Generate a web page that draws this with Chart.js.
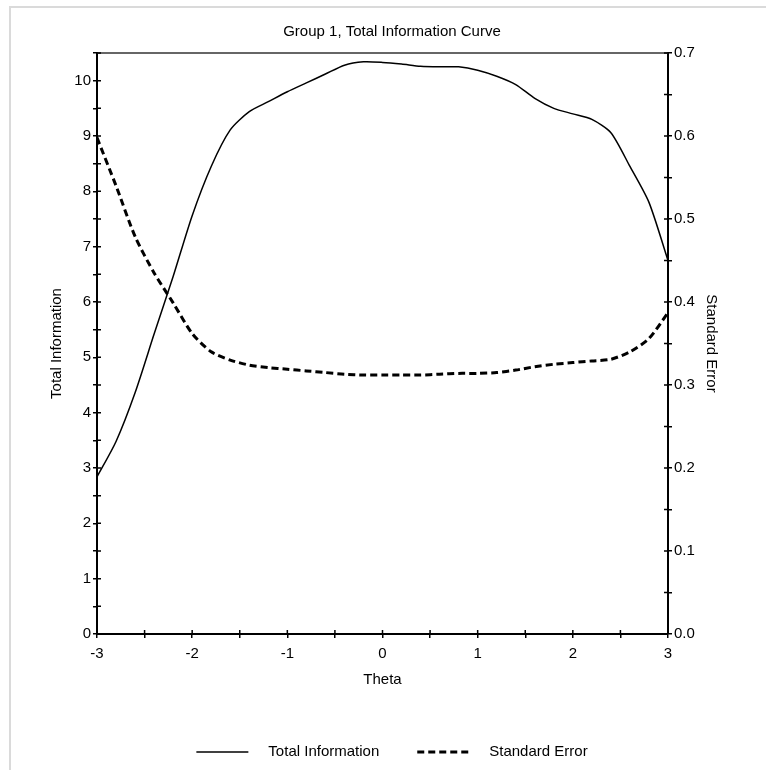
<!DOCTYPE html>
<html>
<head>
<meta charset="utf-8">
<script src="https://cdn.jsdelivr.net/npm/chart.js@4.4.1/dist/chart.umd.min.js"></script>
<style>
html,body{margin:0;padding:0;background:#fff;}
#wrap{width:766px;height:770px;position:relative;}
canvas{display:block;}
</style>
</head>
<body>
<div id="wrap"><canvas id="c" width="766" height="770"></canvas></div>
<script>
// ---- data ----
const theta = [-3.0,-2.8,-2.6,-2.4,-2.2,-2.0,-1.8,-1.6,-1.4,-1.2,-1.0,-0.8,-0.6,-0.4,-0.2,0.0,0.2,0.4,0.6,0.8,1.0,1.2,1.4,1.6,1.8,2.0,2.2,2.4,2.6,2.8,3.0];
const totalInformation = [2.84,3.48,4.36,5.42,6.46,7.56,8.45,9.11,9.44,9.62,9.80,9.96,10.12,10.28,10.34,10.33,10.30,10.26,10.25,10.25,10.19,10.08,9.93,9.68,9.50,9.40,9.30,9.06,8.45,7.80,6.75];
const standardError = [0.598,0.540,0.479,0.435,0.399,0.362,0.340,0.330,0.324,0.321,0.319,0.317,0.315,0.313,0.312,0.312,0.312,0.312,0.313,0.314,0.314,0.315,0.318,0.322,0.325,0.327,0.329,0.331,0.340,0.356,0.387];

const xTickValues = [-3,-2,-1,0,1,2,3];
const xTickLabels = ['-3','-2','-1','0','1','2','3'];
const leftTickValues = [0,1,2,3,4,5,6,7,8,9,10];
const leftTickLabels = ['0','1','2','3','4','5','6','7','8','9','10'];
const rightTickValues = [0,0.1,0.2,0.3,0.4,0.5,0.6,0.7];
const rightTickLabels = ['0.0','0.1','0.2','0.3','0.4','0.5','0.6','0.7'];

const seriesNames = ['Total Information','Standard Error'];
const chartTitle = 'Group 1, Total Information Curve';
const xTitle = 'Theta';

const FONT = "'Liberation Sans', Arial, sans-serif";

function labelFor(values, labels) {
  return function(v) {
    for (let i = 0; i < values.length; i++) {
      if (Math.abs(values[i] - v) < 1e-6) return labels[i];
    }
    return '';
  };
}

const frameAndTicks = {
  id: 'frameAndTicks',
  beforeDraw(chart) {
    const ctx = chart.ctx;
    ctx.save();
    ctx.strokeStyle = '#dadada';
    ctx.lineWidth = 2;
    ctx.beginPath();
    ctx.moveTo(10, chart.height);
    ctx.lineTo(10, 7);
    ctx.lineTo(chart.width, 7);
    ctx.stroke();
    ctx.restore();
  },
  afterDraw(chart) {
    const ctx = chart.ctx;
    const a = chart.chartArea;
    ctx.save();
    // top border
    ctx.strokeStyle = '#333';
    ctx.lineWidth = 1.5;
    ctx.beginPath();
    ctx.moveTo(a.left, a.top);
    ctx.lineTo(a.right, a.top);
    ctx.stroke();
    // inward tick marks
    ctx.strokeStyle = '#000';
    ctx.lineWidth = 1.5;
    const sx = chart.scales.x, sy = chart.scales.y, sy2 = chart.scales.y2;
    ctx.beginPath();
    sx.ticks.forEach(t => {
      const p = sx.getPixelForValue(t.value);
      ctx.moveTo(p, a.bottom); ctx.lineTo(p, a.bottom - 4);
    });
    sy.ticks.forEach(t => {
      const p = sy.getPixelForValue(t.value);
      ctx.moveTo(a.left, p); ctx.lineTo(a.left + 4, p);
    });
    sy2.ticks.forEach(t => {
      const p = sy2.getPixelForValue(t.value);
      ctx.moveTo(a.right, p); ctx.lineTo(a.right - 4, p);
    });
    ctx.stroke();

    // legend
    const ds = chart.data.datasets;
    ctx.font = '15px ' + FONT;
    ctx.fillStyle = '#000';
    ctx.textBaseline = 'middle';
    const lineLen = 52, gap = 20, itemGap = 38;
    const w = ds.map(d => ctx.measureText(d.label).width);
    const total = ds.length * (lineLen + gap) + w.reduce((s, v) => s + v, 0) + itemGap * (ds.length - 1);
    const tb = chart.titleBlock;
    const cx = (tb.left + tb.right) / 2;
    let x = cx - total / 2;
    const y = 752;
    ds.forEach((d, i) => {
      ctx.save();
      ctx.strokeStyle = d.borderColor;
      ctx.lineWidth = d.borderWidth;
      ctx.setLineDash(d.borderDash || []);
      ctx.beginPath();
      ctx.moveTo(x, y); ctx.lineTo(x + lineLen, y);
      ctx.stroke();
      ctx.restore();
      x += lineLen + gap;
      ctx.fillText(d.label, x, y);
      x += w[i] + itemGap;
    });
    ctx.restore();
  }
};

const pts = (ys) => theta.map((t, i) => ({x: t, y: ys[i]}));

new Chart(document.getElementById('c'), {
  type: 'line',
  data: {
    datasets: [
      {
        label: seriesNames[0],
        data: pts(totalInformation),
        yAxisID: 'y',
        borderColor: '#000',
        borderWidth: 1.5,
        pointRadius: 0,
        tension: 0.25,
        fill: false
      },
      {
        label: seriesNames[1],
        data: pts(standardError),
        yAxisID: 'y2',
        borderColor: '#000',
        borderWidth: 3,
        borderDash: [7, 4],
        pointRadius: 0,
        tension: 0.25,
        fill: false
      }
    ]
  },
  options: {
    responsive: false,
    animation: false,
    devicePixelRatio: 1,
    layout: { padding: { left: 18, right: 0, top: 0, bottom: 76 } },
    plugins: {
      legend: { display: false },
      tooltip: { enabled: false },
      title: {
        display: true,
        text: chartTitle,
        color: '#000',
        font: { family: FONT, size: 15, weight: 'normal' },
        padding: { top: 23, bottom: 12 }
      }
    },
    scales: {
      x: {
        type: 'linear',
        min: -3, max: 3,
        afterFit: s => { s.height = 60; },
        ticks: {
          stepSize: 0.5, autoSkip: false, maxRotation: 0,
          color: '#000', padding: 7,
          font: { family: FONT, size: 15 },
          callback: labelFor(xTickValues, xTickLabels)
        },
        grid: { drawOnChartArea: false, drawTicks: true, tickLength: 4, color: '#000', lineWidth: 1.5 },
        border: { display: true, color: '#000', width: 2 },
        title: { display: true, text: xTitle, color: '#000', font: { family: FONT, size: 15 }, padding: { top: 0, bottom: 5 } }
      },
      y: {
        type: 'linear', position: 'left',
        min: 0, max: 10.5,
        afterFit: s => { s.width = 79; },
        ticks: {
          stepSize: 0.5, autoSkip: false,
          color: '#000', padding: 2,
          font: { family: FONT, size: 15 },
          callback: labelFor(leftTickValues, leftTickLabels)
        },
        grid: { drawOnChartArea: false, drawTicks: true, tickLength: 4, color: '#000', lineWidth: 1.5 },
        border: { display: true, color: '#000', width: 2 },
        title: { display: true, text: seriesNames[0], color: '#000', font: { family: FONT, size: 15 }, padding: { top: 30, bottom: 0 } }
      },
      y2: {
        type: 'linear', position: 'right',
        min: 0, max: 0.7,
        afterFit: s => { s.width = 98; },
        ticks: {
          stepSize: 0.05, autoSkip: false,
          color: '#000', padding: 2,
          font: { family: FONT, size: 15 },
          callback: labelFor(rightTickValues, rightTickLabels)
        },
        grid: { drawOnChartArea: false, drawTicks: true, tickLength: 4, color: '#000', lineWidth: 1.5 },
        border: { display: true, color: '#000', width: 2 },
        title: { display: true, text: seriesNames[1], color: '#000', font: { family: FONT, size: 15 }, padding: { top: 46, bottom: 0 } }
      }
    }
  },
  plugins: [frameAndTicks]
});
</script>
</body>
</html>
